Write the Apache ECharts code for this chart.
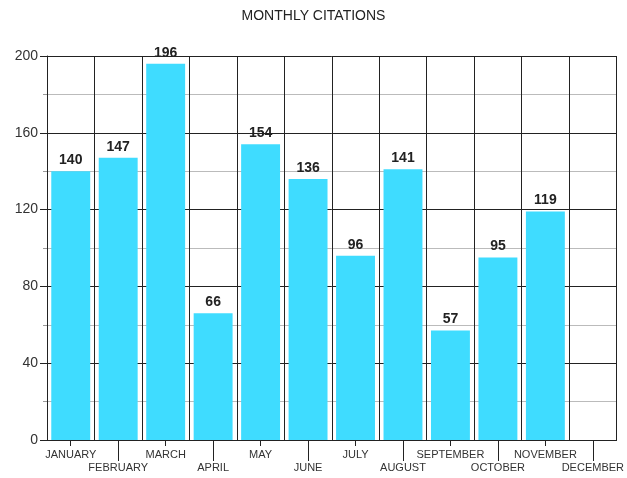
<!DOCTYPE html>
<html>
<head>
<meta charset="utf-8">
<script src="https://cdn.jsdelivr.net/npm/echarts@6/dist/echarts.min.js"></script>
<style>
  html, body { margin: 0; padding: 0; background: #fff; }
  #chart { width: 627px; height: 478px; }
</style>
</head>
<body>
<div id="chart"></div>
<script>
var months = ["JANUARY", "FEBRUARY", "MARCH", "APRIL", "MAY", "JUNE",
    "JULY", "AUGUST", "SEPTEMBER", "OCTOBER", "NOVEMBER", "DECEMBER"];
var citations = [140, 147, 196, 66, 154, 136, 96, 141, 57, 95, 119, "-"];

var chart = echarts.init(document.getElementById("chart"));

var font = "Liberation Sans, Arial, sans-serif";
var even = function (i) { return i % 2 === 0; };
var odd = function (i) { return i % 2 === 1; };

var option = {
    animation: false,
    title: {
        text: "MONTHLY CITATIONS",
        left: "center",
        top: 4,
        textStyle: { fontFamily: font, fontSize: 14, fontWeight: "normal", color: "#222" }
    },
    grid: { left: 47, right: 10, top: 56, bottom: 38 },
    xAxis: [
        {
            type: "category",
            position: "bottom",
            data: months,
            axisLine: { show: true, lineStyle: { color: "#222" } },
            axisTick: { show: true, alignWithLabel: true, length: 6, interval: even, lineStyle: { color: "#222" } },
            axisLabel: { interval: even, margin: 9, fontFamily: font, fontSize: 11, color: "#333" },
            splitLine: { show: true, interval: 0, lineStyle: { color: "#222", width: 1 } }
        },
        {
            type: "category",
            position: "bottom",
            data: months,
            axisLine: { show: false },
            axisTick: { show: true, alignWithLabel: true, length: 21, interval: odd, lineStyle: { color: "#222" } },
            axisLabel: { interval: odd, margin: 22, fontFamily: font, fontSize: 11, color: "#333" },
            splitLine: { show: false }
        }
    ],
    yAxis: {
        type: "value",
        min: 0,
        max: 200,
        interval: 40,
        axisLine: { show: true, lineStyle: { color: "#222" } },
        axisTick: { show: true, length: 7, lineStyle: { color: "#222" } },
        minorTick: { show: true, splitNumber: 2, length: 4, lineStyle: { color: "#999" } },
        axisLabel: { margin: 9, fontFamily: font, fontSize: 14, color: "#333" },
        splitLine: { show: true, lineStyle: { color: "#222", width: 1 } },
        minorSplitLine: { show: true, lineStyle: { color: "#bbb", width: 1 } }
    },
    series: [
        {
            type: "bar",
            xAxisIndex: 0,
            data: citations,
            barCategoryGap: "18%",
            itemStyle: { color: "#3fdcff" },
            label: {
                show: true,
                position: "top",
                distance: 4,
                fontFamily: font,
                fontSize: 14,
                fontWeight: "bold",
                color: "#222"
            }
        }
    ]
};

chart.setOption(option);
</script>
</body>
</html>
